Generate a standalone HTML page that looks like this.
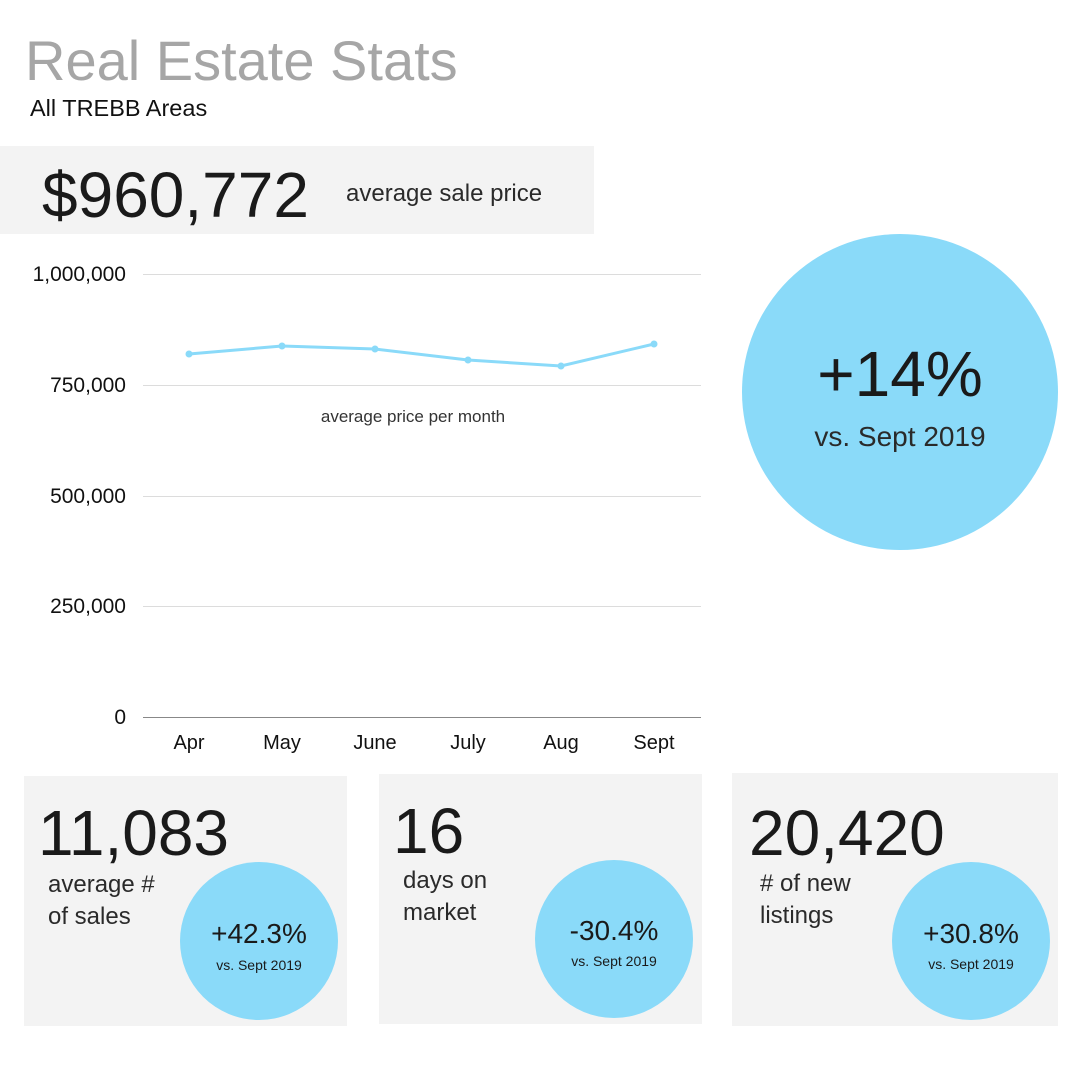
<!DOCTYPE html>
<html><head><meta charset="utf-8"><style>
html,body{margin:0;padding:0;background:#fff;}
svg{display:block;}
text{font-family:"Liberation Sans",sans-serif;}
</style></head><body>
<svg width="1080" height="1080" viewBox="0 0 1080 1080" xmlns="http://www.w3.org/2000/svg">
<rect width="1080" height="1080" fill="#fff"/>
<text x="25" y="80" font-size="56" fill="#a6a6a6">Real Estate Stats</text>
<text x="30" y="116" font-size="23.5" fill="#111">All TREBB Areas</text>
<rect x="0" y="146" width="594" height="88" fill="#f3f3f3"/>
<text x="42" y="217" font-size="64" fill="#1a1a1a">$960,772</text>
<text x="346" y="201" font-size="24" fill="#2a2a2a">average sale price</text>
<g stroke="#dcdcdc" stroke-width="1">
<line x1="143" y1="274.5" x2="701" y2="274.5"/>
<line x1="143" y1="385.5" x2="701" y2="385.5"/>
<line x1="143" y1="496.5" x2="701" y2="496.5"/>
<line x1="143" y1="606.5" x2="701" y2="606.5"/>
</g>
<line x1="143" y1="717.5" x2="701" y2="717.5" stroke="#888" stroke-width="1"/>
<g font-size="21" fill="#111" text-anchor="end">
<text x="126" y="281">1,000,000</text>
<text x="126" y="392">750,000</text>
<text x="126" y="503">500,000</text>
<text x="126" y="613">250,000</text>
<text x="126" y="724">0</text>
</g>
<g font-size="20" fill="#111" text-anchor="middle">
<text x="189" y="749">Apr</text><text x="282" y="749">May</text><text x="375" y="749">June</text>
<text x="468" y="749">July</text><text x="561" y="749">Aug</text><text x="654" y="749">Sept</text>
</g>
<text x="413" y="422" font-size="17" fill="#333" text-anchor="middle">average price per month</text>
<polyline points="189,354 282,346 375,349 468,360 561,366 654,344" fill="none" stroke="#8adaf9" stroke-width="3"/>
<g fill="#8adaf9"><circle cx="189" cy="354" r="3.5"/><circle cx="282" cy="346" r="3.5"/><circle cx="375" cy="349" r="3.5"/><circle cx="468" cy="360" r="3.5"/><circle cx="561" cy="366" r="3.5"/><circle cx="654" cy="344" r="3.5"/></g>
<circle cx="900" cy="392" r="158" fill="#8adaf9"/>
<text x="900" y="396" font-size="64" fill="#1a1a1a" text-anchor="middle">+14%</text>
<text x="900" y="446" font-size="28" fill="#2a2a2a" text-anchor="middle">vs. Sept 2019</text>
<rect x="24" y="776" width="323" height="250" fill="#f3f3f3"/>
<rect x="379" y="774" width="323" height="250" fill="#f3f3f3"/>
<rect x="732" y="773" width="326" height="253" fill="#f3f3f3"/>
<text x="38" y="855" font-size="64" fill="#1a1a1a">11,083</text>
<text x="48" y="892" font-size="24" fill="#2a2a2a">average #</text>
<text x="48" y="924" font-size="24" fill="#2a2a2a">of sales</text>
<text x="393" y="853" font-size="64" fill="#1a1a1a">16</text>
<text x="403" y="888" font-size="24" fill="#2a2a2a">days on</text>
<text x="403" y="920" font-size="24" fill="#2a2a2a">market</text>
<text x="749" y="855" font-size="64" fill="#1a1a1a">20,420</text>
<text x="760" y="891" font-size="24" fill="#2a2a2a"># of new</text>
<text x="760" y="923" font-size="24" fill="#2a2a2a">listings</text>
<circle cx="259" cy="941" r="79" fill="#8adaf9"/>
<circle cx="614" cy="939" r="79" fill="#8adaf9"/>
<circle cx="971" cy="941" r="79" fill="#8adaf9"/>
<g text-anchor="middle" fill="#1a1a1a">
<text x="259" y="943" font-size="28">+42.3%</text><text x="259" y="970" font-size="14">vs. Sept 2019</text>
<text x="614" y="940" font-size="28">-30.4%</text><text x="614" y="966" font-size="14">vs. Sept 2019</text>
<text x="971" y="943" font-size="28">+30.8%</text><text x="971" y="969" font-size="14">vs. Sept 2019</text>
</g>
</svg>
</body></html>
